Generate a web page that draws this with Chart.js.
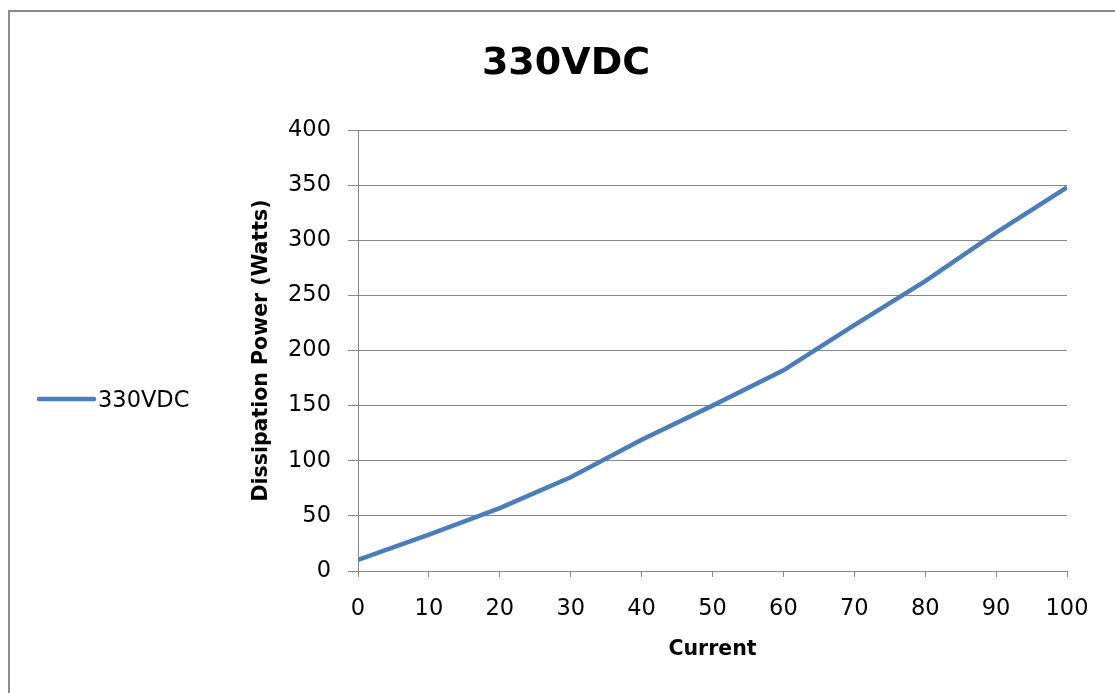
<!DOCTYPE html>
<html>
<head>
<meta charset="utf-8">
<script src="https://cdn.jsdelivr.net/npm/chart.js@4.4.1/dist/chart.umd.min.js"></script>
<style>
    html, body { margin: 0; padding: 0; background: #fff; overflow: hidden; }
    #frame {
        position: absolute; left: 8px; top: 10px; width: 1200px; height: 800px;
        border: 2px solid #8c8c8c; box-sizing: border-box;
    }
    #wrap { position: absolute; left: 0; top: 0; width: 1115px; height: 693px; }
</style>
</head>
<body>
<div id="frame"></div>
<div id="wrap"><canvas id="powerChart" width="1115" height="693"></canvas></div>
<script>
const corriente = [0, 10, 20, 30, 40, 50, 60, 70, 80, 90, 100];
const potencia330 = [10, 33, 57, 85, 119, 150, 182, 223, 263, 307, 348];
const serieNombre = '330VDC';
const tituloGrafico = '330VDC';
const tituloX = 'Current';
const tituloY = 'Dissipation Power (Watts)';

document.addEventListener('DOMContentLoaded', () => {
    const ctx = document.getElementById('powerChart').getContext('2d');
    const azul = '#4a7ebb';
    const gris = '#878787';
    const fuenteTicks = { family: 'DejaVu Sans', size: 22.5 };

    // leyenda dibujada a la izquierda, como en el original
    const leyendaIzq = {
        id: 'leyendaIzq',
        afterDraw(chart) {
            const c = chart.ctx;
            const ds = chart.data.datasets[0];
            c.save();
            c.strokeStyle = ds.borderColor;
            c.lineWidth = 4.5;
            c.lineCap = 'round';
            c.beginPath();
            c.moveTo(39, 399);
            c.lineTo(94, 399);
            c.stroke();
            c.fillStyle = '#000';
            c.font = '22.5px "DejaVu Sans"';
            c.textBaseline = 'alphabetic';
            c.fillText(ds.label, 98, 407);
            c.restore();
        }
    };

    new Chart(ctx, {
        type: 'line',
        data: {
            datasets: [{
                label: serieNombre,
                data: corriente.map((x, i) => ({ x, y: potencia330[i] })),
                borderColor: azul,
                backgroundColor: azul,
                borderWidth: 4.5,
                pointRadius: 0,
                tension: 0,
                fill: false
            }]
        },
        options: {
            responsive: false,
            animation: false,
            layout: { padding: { left: 65, right: 48, top: 0, bottom: 22 } },
            plugins: {
                legend: { display: false },
                tooltip: { enabled: false },
                title: {
                    display: true,
                    text: tituloGrafico,
                    color: '#000',
                    font: { family: 'DejaVu Sans', size: 38, weight: 'bold', lineHeight: 1.2 },
                    padding: { top: 41, bottom: 43.4 }
                }
            },
            scales: {
                x: {
                    type: 'linear',
                    min: 0, max: 100,
                    afterFit: s => { s.height = 100; },
                    ticks: { stepSize: 10, color: '#000', padding: 19, font: fuenteTicks },
                    grid: { display: true, drawOnChartArea: false, color: gris, tickLength: 6 },
                    border: { color: gris, width: 1 },
                    title: {
                        display: true, text: tituloX, color: '#000',
                        font: { family: 'DejaVu Sans', size: 20.5, weight: 'bold', lineHeight: 1.2 },
                        padding: { top: 0, bottom: 9 }
                    }
                },
                y: {
                    min: 0, max: 400,
                    afterFit: s => { s.width = 293; },
                    ticks: { stepSize: 50, color: '#000', padding: 17, font: fuenteTicks },
                    grid: { color: gris, tickLength: 10 },
                    border: { color: gris, width: 1 },
                    title: {
                        display: true, text: tituloY, color: '#000',
                        font: { family: 'DejaVu Sans', size: 20.5, weight: 'bold', lineHeight: 1.2 },
                        padding: { top: 184, bottom: 4 }
                    }
                }
            }
        },
        plugins: [leyendaIzq]
    });
});
</script>
</body>
</html>
